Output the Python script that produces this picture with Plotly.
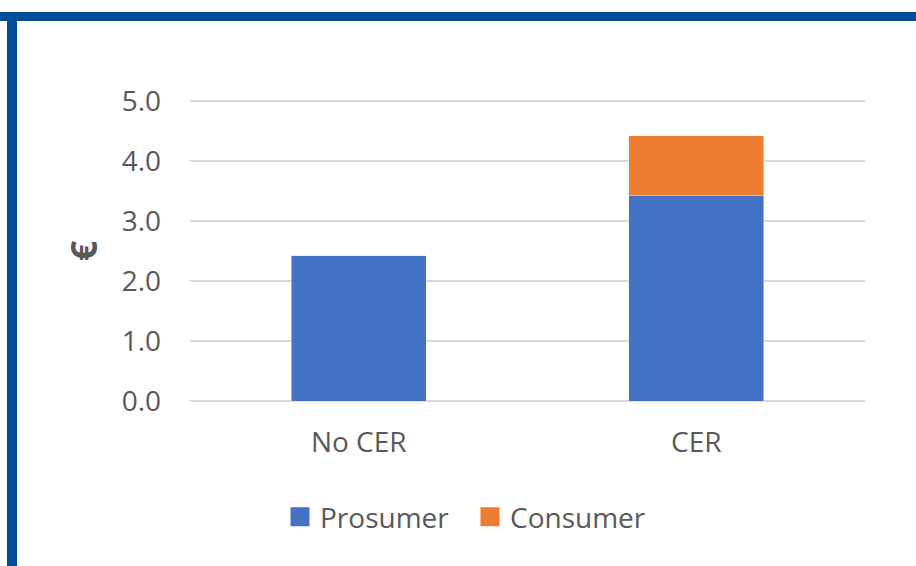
import plotly.graph_objects as go

categories = ["No CER", "CER"]
prosumer = [2.42, 3.42]
consumer = [0.0, 1.0]
y_ticks = [0, 1, 2, 3, 4, 5]
y_tick_labels = ["0.0", "1.0", "2.0", "3.0", "4.0", "5.0"]

BLUE = "#4472C4"
ORANGE = "#ED7D31"
TEXT = "#595959"
FONT = "Open Sans"
FS = 28

fig = go.Figure()
fig.add_trace(go.Bar(x=categories, y=prosumer, name="Prosumer", marker_color=BLUE, showlegend=False))
fig.add_trace(go.Bar(x=categories, y=consumer, name="Consumer", marker_color=ORANGE, showlegend=False))
# legend entries
fig.add_trace(go.Scatter(x=[None], y=[None], mode="markers", name="Prosumer",
                         marker=dict(symbol="square", size=16, color=BLUE, line=dict(color=BLUE, width=3))))
fig.add_trace(go.Scatter(x=[None], y=[None], mode="markers", name="Consumer",
                         marker=dict(symbol="square", size=16, color=ORANGE, line=dict(color=ORANGE, width=3))))

L, R, T, B = 190, 51, 99, 163
W, H = 916, 566
pw, ph = W - L - R, H - T - B

def px(x):
    return (x - L) / pw

def py(y):
    return (H - B - y) / ph

border = "#024E99"
fig.add_shape(type="rect", xref="paper", yref="paper", x0=px(0), x1=px(W), y0=py(21), y1=py(12),
              fillcolor=border, line_width=0, layer="above")
fig.add_shape(type="rect", xref="paper", yref="paper", x0=px(7), x1=px(17), y0=py(H), y1=py(12),
              fillcolor=border, line_width=0, layer="above")

fig.update_layout(
    width=W, height=H,
    margin=dict(l=L, r=R, t=T, b=B),
    barmode="stack",
    bargap=0.6,
    paper_bgcolor="white",
    plot_bgcolor="white",
    font=dict(family=FONT, color=TEXT, size=FS),
    showlegend=True,
    legend=dict(orientation="h", x=px(470), xanchor="center", y=py(517), yanchor="middle",
                font=dict(size=FS, color=TEXT), itemwidth=30, entrywidth=145,
                traceorder="normal"),
    xaxis=dict(showgrid=False, showline=False, ticks="", ticklabelstandoff=20,
               tickfont=dict(size=FS, color=TEXT)),
    yaxis=dict(range=[-1 / 30, 5 + 1 / 30], tickvals=y_ticks, ticktext=y_tick_labels, showgrid=True,
               gridcolor="#D9D9D9", gridwidth=2, zeroline=False, showline=False,
               ticklabelstandoff=28, tickfont=dict(size=FS, color=TEXT),
               title=dict(text="<b>€</b>", font=dict(size=36, color=TEXT), standoff=13)),
)

fig.write_html("out.html")
